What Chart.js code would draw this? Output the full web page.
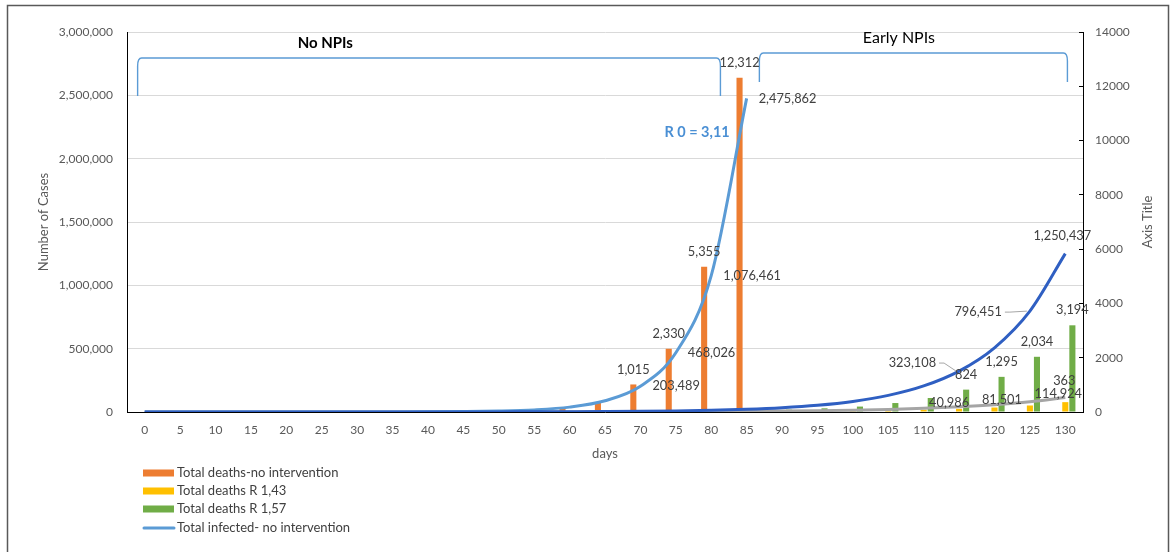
<!DOCTYPE html>
<html>
<head>
<meta charset="utf-8">
<script src="https://cdn.jsdelivr.net/npm/chart.js@4.4.0/dist/chart.umd.min.js"></script>
<style>
  html, body { margin: 0; padding: 0; background: #ffffff; }
  canvas { display: block; }
</style>
</head>
<body>
<canvas id="chart" width="1175" height="552"></canvas>
<script>
// ---- data -------------------------------------------------------------
const days = [0, 5, 10, 15, 20, 25, 30, 35, 40, 45, 50, 55, 60, 65, 70, 75, 80, 85,
              90, 95, 100, 105, 110, 115, 120, 125, 130];

// deaths (right axis)
const deathsNoIntervention = [0, 0, 0, 0, 0, 0, 0, 0, 0, 0, 0, 50, 110, 360, 1015, 2330, 5355, 12312,
                              null, null, null, null, null, null, null, null, null];
const deathsR143 = [0, 0, 0, 0, 0, 0, 0, 0, 0, 0, 0, 0, 3, 4, 6, 8, 11, 15,
                    21, 30, 43, 60, 84, 118, 165, 240, 363];
const deathsR157 = [0, 0, 0, 0, 0, 0, 0, 0, 0, 0, 0, 0, 6, 9, 14, 22, 35, 55,
                    87, 136, 200, 330, 515, 824, 1295, 2034, 3194];

// infected (left axis)
const infectedNoIntervention = [1, 4, 9, 20, 50, 110, 260, 600, 1400, 3200, 7300, 16700, 38500, 88500,
                                203489, 468026, 1076461, 2475862,
                                null, null, null, null, null, null, null, null, null];
const infectedR157 = [10, 16, 25, 39, 61, 96, 151, 237, 373, 585, 920, 1440, 2260, 3550, 5580, 8760,
                      13750, 21600, 33900, 53200, 83500, 131000, 205800, 323108, 507000, 796451, 1250437];
const infectedR143 = [15, 21, 30, 43, 60, 85, 119, 168, 237, 335, 470, 660, 940, 1320, 1860, 2600,
                      3700, 5200, 7400, 10400, 14600, 20600, 29100, 40986, 57800, 81501, 114924];

// days whose value is written next to the mark
const labelledDays = {
  deathsNoIntervention: [70, 75, 80, 85],
  deathsR143: [130],
  deathsR157: [115, 120, 125, 130],
  infectedNoIntervention: [70, 75, 80, 85],
  infectedR157: [115, 125, 130],
  infectedR143: [115, 125, 130]
};

// ---- styling ----------------------------------------------------------
const FONT = 'Lato, "Open Sans", sans-serif';
const TEXT_DARK = '#404040';
const TEXT_AXIS = '#595959';
const C_ORANGE = '#ED7D31', C_YELLOW = '#FFC000', C_GREEN = '#70AD47';
const C_LIGHTBLUE = '#5B9BD5', C_DARKBLUE = '#2F5FC2', C_GRAY = '#A5A5A5';

// where each value label sits relative to its mark (pixels)
const labelPlacement = {
  deathsNoIntervention: { default: { dx: 0, dy: -15, align: 'center' } },
  deathsR143: { default: { dx: -1, dy: -21, align: 'center' } },
  deathsR157: { default: { dx: 0, dy: -15, align: 'center' } },
  infectedNoIntervention: { default: { dx: 12, dy: 0, align: 'left' } },
  infectedR157: {
    115: { dx: -23, dy: -8, align: 'right', leader: true },
    125: { dx: -28, dy: 1, align: 'right', leader: true },
    130: { dx: -3, dy: -18, align: 'center' }
  },
  infectedR143: {
    115: { dx: -10, dy: -4, align: 'center' },
    125: { dx: -28, dy: -2, align: 'center' },
    130: { dx: -7, dy: -4, align: 'center' }
  }
};

// bracket annotations, in category-index / left-axis units
const brackets = [
  { from: -0.2, to: 16.26, top: 2795000, bottom: 2495000 },
  { from: 17.36, to: 26.06, top: 2834000, bottom: 2605000 }
];
const notes = [
  { text: 'No NPIs', at: 5.1, value: 2913000, font: 'bold 15px ' + FONT, color: '#000000' },
  { text: 'Early NPIs', at: 21.3, value: 2953000, font: '16px ' + FONT, color: '#000000' },
  { text: 'R 0 = 3,11', at: 15.6, value: 2210500, font: 'bold 14.5px ' + FONT, color: '#4A8FD4' }
];

const legendItems = [
  { text: 'Total deaths-no intervention', color: C_ORANGE, kind: 'box' },
  { text: 'Total deaths R 1,43', color: C_YELLOW, kind: 'box' },
  { text: 'Total deaths R 1,57', color: C_GREEN, kind: 'box' },
  { text: 'Total infected- no intervention', color: C_LIGHTBLUE, kind: 'line' }
];

const fmt = v => v.toLocaleString('en-US');

const barCommon = { categoryPercentage: 0.6, barPercentage: 0.86, yAxisID: 'y1', borderWidth: 0 };
const lineCommon = { type: 'line', yAxisID: 'y', borderWidth: 3, pointRadius: 0,
                     cubicInterpolationMode: 'monotone', fill: false, spanGaps: false };

const datasets = [
  Object.assign({ key: 'deathsNoIntervention', label: 'Total deaths-no intervention',
                  data: deathsNoIntervention, backgroundColor: C_ORANGE, order: 3 }, barCommon),
  Object.assign({ key: 'deathsR143', label: 'Total deaths R 1,43',
                  data: deathsR143, backgroundColor: C_YELLOW, order: 4 }, barCommon),
  Object.assign({ key: 'deathsR157', label: 'Total deaths R 1,57',
                  data: deathsR157, backgroundColor: C_GREEN, order: 5 }, barCommon),
  Object.assign({ key: 'infectedNoIntervention', label: 'Total infected- no intervention',
                  data: infectedNoIntervention, borderColor: C_LIGHTBLUE, order: 1 }, lineCommon),
  Object.assign({ key: 'infectedR157', label: 'Total infected R 1,57',
                  data: infectedR157, borderColor: C_DARKBLUE, order: 0 }, lineCommon),
  Object.assign({ key: 'infectedR143', label: 'Total infected R 1,43',
                  data: infectedR143, borderColor: C_GRAY, order: 2 }, lineCommon)
];

// ---- drawing extras ---------------------------------------------------
const extras = {
  id: 'extras',
  afterDatasetsDraw(chart) {
    const ctx = chart.ctx;
    const xs = chart.scales.x, ys = chart.scales.y;

    // brackets over the two periods
    ctx.save();
    ctx.strokeStyle = C_LIGHTBLUE;
    ctx.lineWidth = 1.4;
    brackets.forEach(b => {
      const x1 = xs.getPixelForValue(b.from), x2 = xs.getPixelForValue(b.to);
      const yt = ys.getPixelForValue(b.top), yb = ys.getPixelForValue(b.bottom);
      const r = 4;
      ctx.beginPath();
      ctx.moveTo(x1, yb);
      ctx.lineTo(x1, yt + r * 2);
      ctx.quadraticCurveTo(x1, yt, x1 + r, yt);
      ctx.lineTo(x2 - r, yt);
      ctx.quadraticCurveTo(x2, yt, x2, yt + r * 2);
      ctx.lineTo(x2, yb);
      ctx.stroke();
    });
    ctx.restore();

    // free text notes
    ctx.save();
    ctx.textAlign = 'center';
    ctx.textBaseline = 'middle';
    notes.forEach(n => {
      ctx.font = n.font;
      ctx.fillStyle = n.color;
      ctx.fillText(n.text, xs.getPixelForValue(n.at), ys.getPixelForValue(n.value));
    });
    ctx.restore();

    // value labels
    ctx.save();
    ctx.font = '12.8px ' + FONT;
    ctx.fillStyle = TEXT_DARK;
    ctx.textBaseline = 'middle';
    chart.data.datasets.forEach((ds, di) => {
      const wanted = labelledDays[ds.key];
      if (!wanted) return;
      const meta = chart.getDatasetMeta(di);
      const place = labelPlacement[ds.key];
      wanted.forEach(day => {
        const i = days.indexOf(day);
        const el = meta.data[i];
        const v = ds.data[i];
        if (!el || v == null) return;
        const p = place[day] || place.default;
        const tx = el.x + p.dx, ty = el.y + p.dy;
        ctx.textAlign = p.align;
        ctx.fillText(fmt(v), tx, ty);
        if (p.leader) {
          ctx.save();
          ctx.strokeStyle = '#A6A6A6';
          ctx.lineWidth = 1;
          ctx.beginPath();
          ctx.moveTo(tx + 3, ty);
          ctx.lineTo(tx + 8, ty);
          ctx.lineTo(el.x - 3, el.y);
          ctx.stroke();
          ctx.restore();
        }
      });
    });
    ctx.restore();
  },
  afterDraw(chart) {
    const ctx = chart.ctx;
    const area = chart.chartArea;

    // legend block under the axis
    ctx.save();
    ctx.font = '13px ' + FONT;
    ctx.fillStyle = TEXT_DARK;
    ctx.textBaseline = 'middle';
    ctx.textAlign = 'left';
    const rowY = [473, 491, 509, 528];
    legendItems.forEach((it, k) => {
      const cy = rowY[k];
      if (it.kind === 'box') {
        ctx.fillStyle = it.color;
        ctx.fillRect(143, cy - 3.5, 31, 7);
      } else {
        ctx.strokeStyle = it.color;
        ctx.lineWidth = 3;
        ctx.lineCap = 'round';
        ctx.beginPath();
        ctx.moveTo(144, cy);
        ctx.lineTo(174, cy);
        ctx.stroke();
      }
      ctx.fillStyle = TEXT_DARK;
      ctx.fillText(it.text, 177, cy);
    });
    ctx.restore();

    // right axis title
    ctx.save();
    ctx.translate(1148, (area.top + area.bottom) / 2);
    ctx.rotate(-Math.PI / 2);
    ctx.font = '13px ' + FONT;
    ctx.fillStyle = TEXT_AXIS;
    ctx.textAlign = 'center';
    ctx.textBaseline = 'middle';
    ctx.fillText('Axis Title', 0, 0);
    ctx.restore();

    // outer frame
    ctx.save();
    ctx.strokeStyle = '#595959';
    ctx.lineWidth = 1.5;
    ctx.beginPath();
    ctx.moveTo(7.5, 552);
    ctx.lineTo(7.5, 5.5);
    ctx.lineTo(1168.5, 5.5);
    ctx.lineTo(1168.5, 552);
    ctx.stroke();
    ctx.restore();
  }
};

new Chart(document.getElementById('chart'), {
  type: 'bar',
  data: { labels: days.map(String), datasets },
  plugins: [extras],
  options: {
    responsive: false,
    animation: false,
    devicePixelRatio: 1,
    layout: { padding: { left: 0, right: 0, top: 32, bottom: 90 } },
    plugins: { legend: { display: false }, tooltip: { enabled: false } },
    scales: {
      x: {
        offset: true,
        grid: { display: false, drawTicks: false },
        border: { display: true, color: '#000000', width: 1 },
        ticks: { color: TEXT_AXIS, font: { family: FONT, size: 12 }, padding: 11,
                 maxRotation: 0, autoSkip: false },
        title: { display: true, text: 'days', color: TEXT_AXIS,
                 font: { family: FONT, size: 13 }, padding: { top: 0, bottom: 0 } },
        afterFit: s => { s.height = 50; }
      },
      y: {
        position: 'left',
        min: 0, max: 3000000,
        ticks: { stepSize: 500000, color: TEXT_AXIS, font: { family: FONT, size: 12 },
                 padding: 14, callback: v => fmt(v) },
        grid: { color: '#D9D9D9', lineWidth: 1, drawTicks: false },
        border: { display: true, color: '#000000', width: 1 },
        title: { display: true, text: 'Number of Cases', color: TEXT_AXIS,
                 font: { family: FONT, size: 13 }, padding: { top: 36, bottom: 0 } },
        afterFit: s => { s.width = 127; }
      },
      y1: {
        position: 'right',
        min: 0, max: 14000,
        ticks: { stepSize: 2000, color: TEXT_AXIS, font: { family: FONT, size: 12 },
                 padding: 16, callback: v => String(v) },
        grid: { drawOnChartArea: false, color: '#000000', tickLength: -4 },
        border: { display: true, color: '#000000', width: 1 },
        afterFit: s => { s.width = 92; }
      }
    }
  }
});
</script>
</body>
</html>
